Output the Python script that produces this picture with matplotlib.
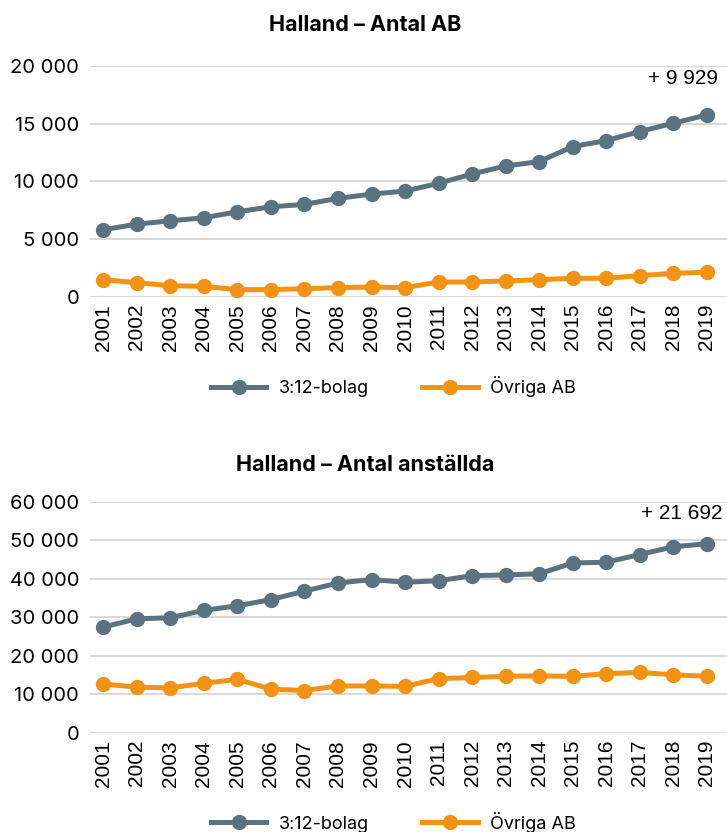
import matplotlib.pyplot as plt
from matplotlib.ticker import FuncFormatter
from matplotlib.lines import Line2D

years = list(range(2001, 2020))

# Halland - Antal AB
ab_312 = [5820, 6300, 6590, 6850, 7370, 7800, 8010, 8530, 8900, 9160,
          9830, 10640, 11330, 11710, 13010, 13530, 14310, 15030, 15750]
ab_ovr = [1500, 1240, 980, 920, 640, 640, 720, 810, 870, 810,
          1300, 1300, 1390, 1500, 1620, 1620, 1850, 2050, 2140]

# Halland - Antal anställda
emp_312 = [27500, 29600, 29900, 31800, 33000, 34600, 36800, 38900, 39800, 39100,
           39500, 40800, 41000, 41300, 44100, 44300, 46300, 48300, 49100]
emp_ovr = [12700, 11900, 11700, 12900, 13900, 11400, 11000, 12200, 12200, 12100,
           14100, 14400, 14700, 14800, 14700, 15400, 15700, 15100, 14700]

titles = ["Halland – Antal AB", "Halland – Antal anställda"]
notes = ["+ 9 929", "+ 21 692"]
series_names = ["3:12-bolag", "Övriga AB"]

grey = "#5B7380"
orange = "#F39314"
grid_c = "#D9D9D9"

fig = plt.figure(figsize=(7.27, 8.32), dpi=100)

def fmt(v, pos):
    return f"{int(v):,}".replace(",", " ")

def draw(ax, s1, s2, ymax, step, title, note, title_y, leg_y, note_off):
    ax.plot(years, s1, color=grey, lw=3.6, marker="o", ms=10, zorder=3)
    ax.plot(years, s2, color=orange, lw=3.6, marker="o", ms=10, zorder=3)
    ax.set_xlim(2000.61, 2019.6)
    ax.set_ylim(0, ymax)
    ax.set_yticks(range(0, ymax + 1, step))
    ax.yaxis.set_major_formatter(FuncFormatter(fmt))
    ax.set_xticks(years)
    ax.set_xticklabels([str(y) for y in years], rotation=90,
                       fontfamily="Liberation Sans", fontsize=15)
    for lab in ax.get_yticklabels():
        lab.set_fontfamily("Inter")
        lab.set_fontsize(14.5)
    ax.grid(axis="y", color=grid_c, lw=1.5, zorder=0)
    ax.set_axisbelow(True)
    for sp in ax.spines.values():
        sp.set_visible(False)
    ax.tick_params(length=0, pad=8)
    ax.tick_params(axis="x", pad=5)
    ax.annotate(note, xy=(years[-1], s1[-1]), xytext=note_off,
                textcoords="offset points", ha="right", va="center",
                fontfamily="Liberation Sans", fontsize=15)
    fig.text(0.503, title_y, title, ha="center", va="center",
             fontfamily="Inter", fontweight="bold", fontsize=15.5)
    handles = [Line2D([], [], color=grey, lw=3.6, marker="o", ms=10),
               Line2D([], [], color=orange, lw=3.6, marker="o", ms=10)]
    fig.legend(handles, series_names, loc="center", bbox_to_anchor=(0.541, leg_y),
               ncol=2, frameon=False, handlelength=3.1, handletextpad=0.7,
               columnspacing=2.9, prop={"family": "Inter", "size": 13})

ax1 = fig.add_axes([0.124, 0.643, 0.876, 0.278])
draw(ax1, ab_312, ab_ovr, 20000, 5000, titles[0], notes[0], 0.970, 0.535, (8, 26))

ax2 = fig.add_axes([0.124, 0.119, 0.876, 0.278])
draw(ax2, emp_312, emp_ovr, 60000, 10000, titles[1], notes[1], 0.441, 0.012, (11, 22))

fig.savefig("out.png", dpi=100)
